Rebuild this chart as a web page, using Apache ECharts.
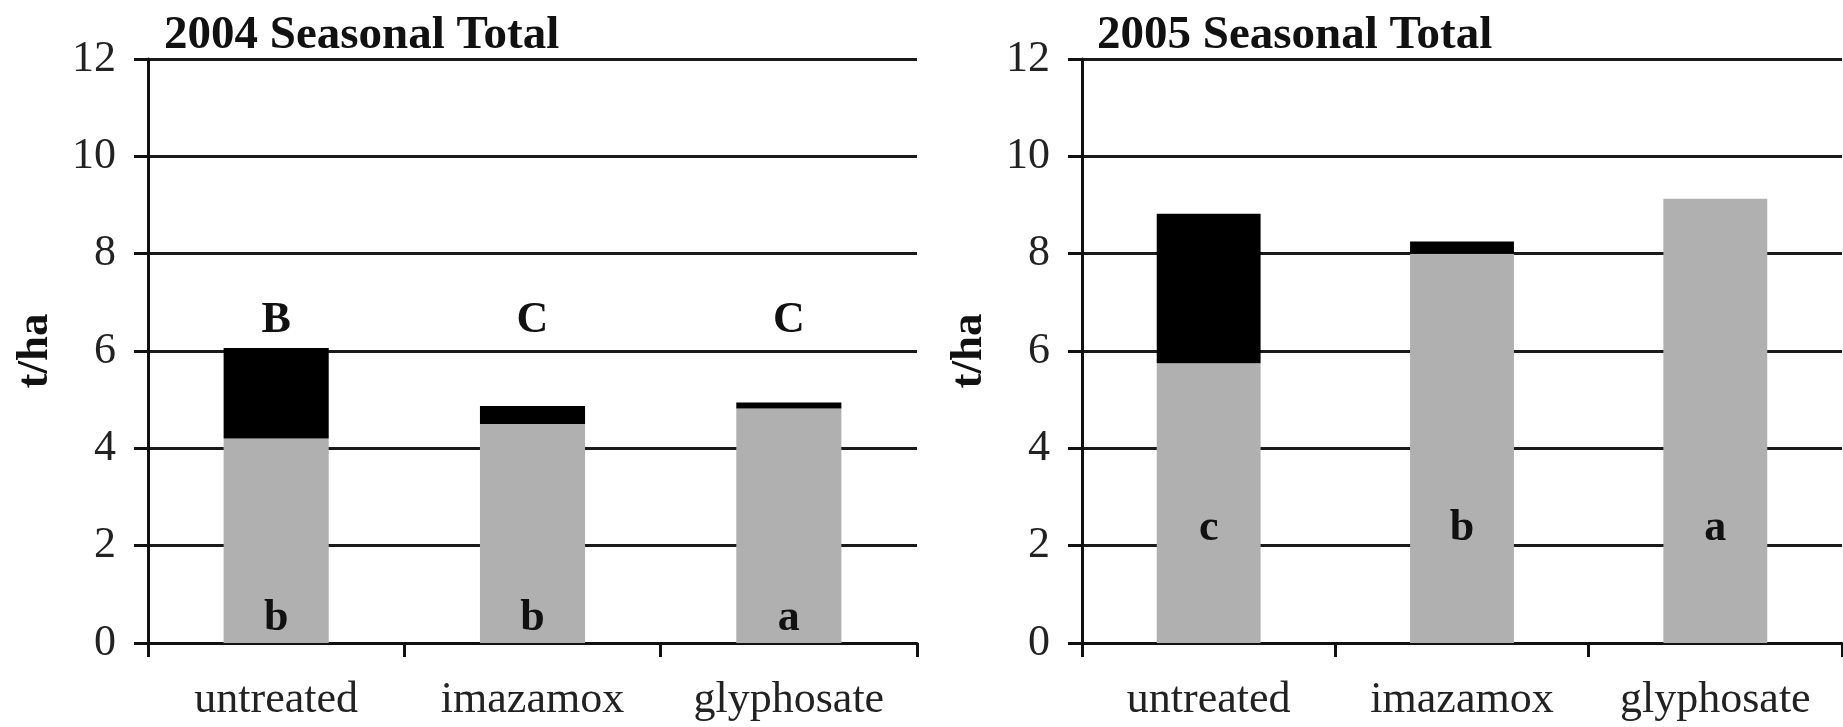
<!DOCTYPE html>
<html>
<head>
<meta charset="utf-8">
<script src="https://cdn.jsdelivr.net/npm/echarts@6/dist/echarts.min.js"></script>
<style>
  html, body { margin: 0; padding: 0; background: #fff; }
  #chart { width: 1843px; height: 727px; }
</style>
</head>
<body>
<div id="chart"></div>
<script>
// ---- data ----
const categories = ['untreated', 'imazamox', 'glyphosate'];
const titles = ['2004 Seasonal Total', '2005 Seasonal Total'];
const yTicks = [0, 2, 4, 6, 8, 10, 12];
// gray (lower) segment and black (upper) segment, t/ha
const gray2004 = [4.2, 4.5, 4.82];
const black2004 = [1.86, 0.37, 0.12];
const gray2005 = [5.75, 8.0, 9.13];
const black2005 = [3.07, 0.25, 0];
// significance letters
const upperLetters2004 = ['B', 'C', 'C'];
const lowerLetters2004 = ['b', 'b', 'a'];
const lowerLetters2005 = ['c', 'b', 'a'];
// y positions of letter labels (in axis units)
const upperLetterY2004 = 6.62;
const lowerLetterY2004 = 0.5;
const lowerLetterY2005 = 2.35;

const FONT = '"Liberation Serif", "DejaVu Serif", serif';
const INK = '#111';
const GRAY = '#b0b0b0';

function yAxisFor(idx) {
  return {
    type: 'value', gridIndex: idx, min: 0, max: 12, interval: 2,
    name: 't/ha', nameLocation: 'middle', nameRotate: 90, nameGap: 90,
    nameTextStyle: { fontFamily: FONT, fontWeight: 'bold', fontSize: 45, color: INK },
    axisLine: { show: true, lineStyle: { color: INK, width: 3 } },
    axisTick: { show: true, length: 14, lineStyle: { color: INK, width: 3 } },
    axisLabel: { fontFamily: FONT, fontSize: 44, color: '#222', margin: 32,
                 formatter: v => yTicks.includes(v) ? String(v) : '' },
    splitLine: { show: true, lineStyle: { color: '#1a1a1a', width: 3 } }
  };
}
function xAxisFor(idx) {
  return {
    type: 'category', gridIndex: idx, data: categories,
    axisLine: { show: true, lineStyle: { color: INK, width: 3 } },
    axisTick: { show: true, length: 14, alignWithLabel: false, lineStyle: { color: INK, width: 3 } },
    axisLabel: { fontFamily: FONT, fontSize: 44, color: '#222', margin: 35 }
  };
}
function letterSeries(idx, letters, y) {
  return {
    type: 'scatter', xAxisIndex: idx, yAxisIndex: idx, symbolSize: 0, z: 10,
    silent: true,
    itemStyle: { opacity: 1 },
    data: letters.map((l, i) => ({ value: [categories[i], y], name: l })),
    label: { show: true, position: 'inside', formatter: p => p.name,
             fontFamily: FONT, fontWeight: 'bold', fontSize: 44, color: INK }
  };
}
function barSeries(idx, data, color, stack) {
  return {
    type: 'bar', xAxisIndex: idx, yAxisIndex: idx, stack: stack,
    barWidth: '41%', data: data, itemStyle: { color: color }, z: 3
  };
}

const chart = echarts.init(document.getElementById('chart'), null, { renderer: 'canvas' });
chart.setOption({
  animation: false,
  backgroundColor: '#fff',
  title: [
    { text: titles[0], left: 159, top: 7,
      textStyle: { fontFamily: FONT, fontWeight: 'bold', fontSize: 47, color: INK } },
    { text: titles[1], left: 1092, top: 7,
      textStyle: { fontFamily: FONT, fontWeight: 'bold', fontSize: 47, color: INK } }
  ],
  grid: [
    { left: 148, right: 926, top: 59, bottom: 84 },
    { left: 1082, right: 1, top: 59, bottom: 84 }
  ],
  xAxis: [xAxisFor(0), xAxisFor(1)],
  yAxis: [yAxisFor(0), yAxisFor(1)],
  series: [
    barSeries(0, gray2004, GRAY, 's2004'),
    barSeries(0, black2004, '#000', 's2004'),
    barSeries(1, gray2005, GRAY, 's2005'),
    barSeries(1, black2005, '#000', 's2005'),
    letterSeries(0, upperLetters2004, upperLetterY2004),
    letterSeries(0, lowerLetters2004, lowerLetterY2004),
    letterSeries(1, lowerLetters2005, lowerLetterY2005)
  ]
});
</script>
</body>
</html>
